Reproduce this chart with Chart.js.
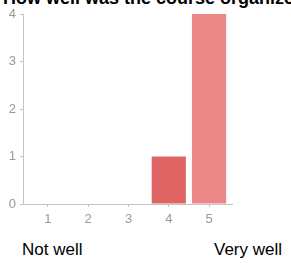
<!DOCTYPE html>
<html>
<head>
<meta charset="utf-8">
<script src="https://cdn.jsdelivr.net/npm/chart.js@4/dist/chart.umd.min.js"></script>
<style>
  html, body { margin: 0; padding: 0; background: #fff; overflow: hidden; }
  body { width: 291px; height: 263px; position: relative; font-family: "Liberation Sans", Arial, sans-serif; }
  #wrap { position: absolute; left: 0; top: 0; width: 291px; height: 230px; }
  .title { position: absolute; left: 3px; top: -11px; font-size: 18px; line-height: 18px; font-weight: bold; color: #000; white-space: nowrap; }
  .lbl { position: absolute; top: 241px; font-size: 17px; line-height: 17px; color: #000; white-space: nowrap; }
</style>
</head>
<body>
<div class="title">How well was the course organized?</div>
<div id="wrap"><canvas id="c"></canvas></div>
<div class="lbl" style="left:22px">Not well</div>
<div class="lbl" style="left:214px">Very well</div>
<script>
// rating scale 1..5, number of responses per rating
const ratings = [1, 2, 3, 4, 5];
const counts = [0, 0, 0, 1, 4];
const barColors = ['#e06666', '#e06666', '#e06666', '#e06666', '#ea8787'];
const yTicks = [0, 1, 2, 3, 4];

const axisColor = '#c4c4c4';
const tickFont = { family: '"Liberation Sans", Arial, sans-serif', size: 13 };

new Chart(document.getElementById('c'), {
  type: 'bar',
  data: {
    datasets: [{
      data: ratings.map((r, i) => ({ x: r, y: counts[i] })),
      backgroundColor: barColors,
      borderWidth: 0,
      barPercentage: 0.85,
      categoryPercentage: 1,
    }],
  },
  options: {
    responsive: true,
    maintainAspectRatio: false,
    animation: false,
    layout: { padding: { left: 0, top: 14, right: 59, bottom: 0 } },
    plugins: { legend: { display: false }, tooltip: { enabled: false } },
    scales: {
      x: {
        type: 'linear',
        min: 0.38,
        max: 5.57,
        offset: false,
        afterBuildTicks: (s) => { s.ticks = ratings.map(v => ({ value: v })); },
        afterFit: (s) => { s.height = 26; },
        grid: { drawOnChartArea: false, offset: false, tickLength: 3, color: axisColor },
        border: { color: axisColor },
        ticks: { color: '#999', font: tickFont, padding: 5, autoSkip: false, maxRotation: 0 },
      },
      y: {
        min: 0,
        max: 4,
        afterBuildTicks: (s) => { s.ticks = yTicks.map(v => ({ value: v })); },
        afterFit: (s) => { s.width = 23; },
        grid: { drawOnChartArea: false, tickLength: 3, color: axisColor },
        border: { color: axisColor },
        ticks: { color: '#999', font: tickFont, padding: 4 },
      },
    },
  },
});
</script>
</body>
</html>
